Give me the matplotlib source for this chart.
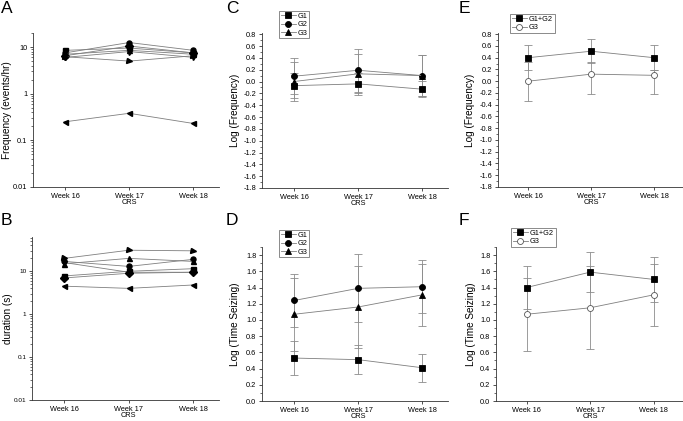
import matplotlib
matplotlib.use('Agg')
import matplotlib.pyplot as plt
from matplotlib.ticker import FixedLocator, FixedFormatter, MultipleLocator, NullFormatter, LogLocator

plt.rcParams['font.family'] = ['Liberation Sans', 'DejaVu Sans']

weeks = [1, 2, 3]
week_labels = ['Week 16', 'Week 17', 'Week 18']
xlabel_text = 'CRS'

# Panel A: frequency (events/hr) per animal
freq_a1 = [8.5, 9.5, 7.5]
freq_a2 = [7.5, 12.5, 8.5]
freq_a3 = [7.0, 8.5, 7.0]
freq_a4 = [6.0, 8.0, 6.0]
freq_a5 = [6.5, 10.5, 7.5]
freq_a6 = [0.25, 0.38, 0.23]
freq_a7 = [6.2, 5.0, 6.5]

# Panel B: duration (s) per animal
dur_a1 = [7.8, 10.0, 11.5]
dur_a2 = [17, 13, 19]
dur_a3 = [15, 20, 17]
dur_a4 = [16, 9.5, 9.5]
dur_a5 = [7.0, 9.0, 9.5]
dur_a6 = [4.5, 4.0, 4.8]
dur_a7 = [20, 31, 30]

# Panel C: Log(Frequency) by group
c_g1 = [-0.07, -0.04, -0.13]
c_g1_err = [0.21, 0.18, 0.14]
c_g2 = [0.09, 0.19, 0.10]
c_g2_err = [0.30, 0.36, 0.34]
c_g3 = [0.0, 0.13, 0.10]
c_g3_err = [0.33, 0.33, 0.34]

# Panel D: Log(Time Seizing) by group
d_g1 = [0.53, 0.51, 0.41]
d_g1_err = [0.21, 0.18, 0.17]
d_g2 = [1.24, 1.39, 1.41]
d_g2_err = [0.33, 0.42, 0.33]
d_g3 = [1.07, 1.16, 1.31]
d_g3_err = [0.45, 0.51, 0.38]

# Panel E
e_g12 = [0.40, 0.51, 0.40]
e_g12_err = [0.21, 0.20, 0.21]
e_g3 = [0.0, 0.12, 0.10]
e_g3_err_lo = [0.33, 0.34, 0.32]
e_g3_err_hi = [0.33, 0.20, 0.09]

# Panel F
f_g12 = [1.40, 1.59, 1.50]
f_g12_err = [0.26, 0.25, 0.28]
f_g3 = [1.07, 1.15, 1.31]
f_g3_err = [0.45, 0.51, 0.38]

W, H = 683, 421
fig = plt.figure(figsize=(W / 100, H / 100), dpi=100)

def box(l, r, t, b):
    return [l / W, 1 - b / H, (r - l) / W, (b - t) / H]

LINE = '#7f7f7f'
ERR = '#8c8c8c'
TICKFS = 5.3
LABFS = 7.2

def style(ax, xlim=(0.5, 3.4), ylabel_x=-0.115):
    for s in ['top', 'right']:
        ax.spines[s].set_visible(False)
    for s in ['left', 'bottom']:
        ax.spines[s].set_linewidth(0.6)
        ax.spines[s].set_color('#333333')
    ax.set_xlim(*xlim)
    ax.set_xticks(weeks)
    ax.set_xticklabels(week_labels, fontsize=TICKFS)
    ax.tick_params(axis='both', which='major', direction='out', length=2.5, width=0.6, pad=1.5, labelsize=TICKFS, color='#333333')
    ax.tick_params(axis='both', which='minor', direction='out', length=1.3, width=0.5, color='#333333')
    ax.set_xlabel(xlabel_text, fontsize=TICKFS, labelpad=0)
    ax.xaxis.set_label_coords((2 - xlim[0]) / (xlim[1] - xlim[0]), -0.075)
    ax.yaxis.set_label_coords(ylabel_x, 0.5)

animal_markers = ['s', 'o', '^', 'v', 'D', '<', '>']

def log_panel(ax, series, ylim, ylabel, ylabel_x, tickfs):
    for vals, m in zip(series, animal_markers):
        ax.plot(weeks, vals, color=LINE, lw=0.6, marker=m, ms=3.6,
                mfc='black', mec='black', zorder=3)
    ax.set_yscale('log')
    ax.set_ylim(*ylim)
    ax.yaxis.set_major_locator(FixedLocator([0.01, 0.1, 1, 10]))
    ax.yaxis.set_major_formatter(FixedFormatter(['0.01', '0.1', '1', '10']))
    ax.yaxis.set_minor_locator(LogLocator(base=10, subs=range(2, 10), numticks=20))
    ax.yaxis.set_minor_formatter(NullFormatter())
    ax.set_ylabel(ylabel, fontsize=LABFS)
    style(ax, ylabel_x=ylabel_x)
    ax.tick_params(axis='y', labelsize=tickfs)

axA = fig.add_axes(box(33, 219, 33, 187))
log_panel(axA, [freq_a1, freq_a2, freq_a3, freq_a4, freq_a5, freq_a6, freq_a7],
          (0.01, 20), 'Frequency (events/hr)', -0.113, 5.3)

axB = fig.add_axes(box(32, 219, 237, 400))
log_panel(axB, [dur_a1, dur_a2, dur_a3, dur_a4, dur_a5, dur_a6, dur_a7],
          (0.01, 63), 'duration (s)', -0.10, 4.6)

def group_line(ax, vals, err, marker, label, mfc='black'):
    ax.errorbar(weeks, vals, yerr=err, fmt='none', ecolor=ERR, elinewidth=0.6,
                capsize=2.6, capthick=0.6, zorder=2)
    ax.plot(weeks, vals, color=LINE, lw=0.6, marker=marker, ms=4.3,
            mfc=mfc, mec='black' if mfc == 'black' else '#555555', mew=0.6,
            label=label, zorder=3)

def legend(ax, x, y):
    leg = ax.legend(loc='upper left', bbox_to_anchor=(x / W, 1 - y / H),
                    bbox_transform=fig.transFigure, fontsize=5.3, frameon=True,
                    fancybox=False, edgecolor='#555555', borderpad=0.25,
                    labelspacing=0.15, handlelength=2.0, handletextpad=0.3,
                    borderaxespad=0)
    leg.get_frame().set_linewidth(0.6)

def lin_panel(ax, ylim, major, ylabel, ylabel_x, xlim=(0.5, 3.4)):
    ax.set_ylim(*ylim)
    ax.yaxis.set_major_locator(MultipleLocator(major))
    ax.yaxis.set_minor_locator(MultipleLocator(major / 2))
    ax.yaxis.set_major_formatter(plt.FuncFormatter(lambda v, p: f'{v:.1f}'))
    ax.set_ylabel(ylabel, fontsize=LABFS)
    style(ax, xlim, ylabel_x=ylabel_x)

axC = fig.add_axes(box(262, 448, 33, 188))
group_line(axC, c_g1, c_g1_err, 's', 'G1')
group_line(axC, c_g2, c_g2_err, 'o', 'G2')
group_line(axC, c_g3, c_g3_err, '^', 'G3')
lin_panel(axC, (-1.8, 0.82), 0.2, 'Log (Frequency)', -0.118)
legend(axC, 279, 11)

axD = fig.add_axes(box(262, 448, 247, 401))
group_line(axD, d_g1, d_g1_err, 's', 'G1')
group_line(axD, d_g2, d_g2_err, 'o', 'G2')
group_line(axD, d_g3, d_g3_err, '^', 'G3')
lin_panel(axD, (0.0, 1.9), 0.2, 'Log (Time Seizing)', -0.118)
legend(axD, 279, 230)

axE = fig.add_axes(box(498, 683, 33, 187))
group_line(axE, e_g12, e_g12_err, 's', 'G1+G2')
group_line(axE, e_g3, [e_g3_err_lo, e_g3_err_hi], 'o', 'G3', mfc='white')
lin_panel(axE, (-1.8, 0.82), 0.2, 'Log (Frequency)', -0.124, xlim=(0.52, 3.46))
legend(axE, 510, 14)

axF = fig.add_axes(box(496, 683, 247, 401))
group_line(axF, f_g12, f_g12_err, 's', 'G1+G2')
group_line(axF, f_g3, f_g3_err, 'o', 'G3', mfc='white')
lin_panel(axF, (0.0, 1.9), 0.2, 'Log (Time Seizing)', -0.107, xlim=(0.52, 3.46))
legend(axF, 511, 228)

for letter, x, y in [('A', 1, 1), ('B', 1, 213), ('C', 226, 1), ('D', 226, 213),
                     ('E', 459, 1), ('F', 459, 213)]:
    fig.text(x / W, 1 - y / H, letter, fontsize=12.5, ha='left', va='top')

fig.savefig('out.png', dpi=100)
